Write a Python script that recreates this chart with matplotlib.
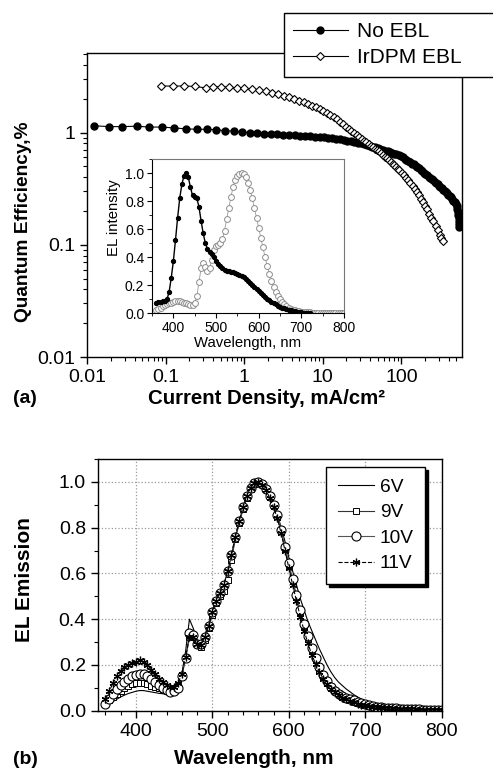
import numpy as np
import matplotlib
matplotlib.use('Agg')
import matplotlib.pyplot as plt
from matplotlib.ticker import (FixedLocator, FixedFormatter, LogLocator, NullFormatter,
                               MultipleLocator, FormatStrFormatter)

plt.rcParams['font.family'] = ['Liberation Sans', 'DejaVu Sans']

# ---- panel (a): quantum efficiency vs current density ----
j_no_ebl = [0.0122, 0.0191, 0.0279, 0.0426, 0.0617, 0.0887, 0.128, 0.181, 0.247, 0.332,
            0.436, 0.573, 0.739, 0.934, 1.17, 1.45, 1.78, 2.17, 2.62, 3.14,
            3.73, 4.40, 5.15, 5.99, 6.92, 7.95, 9.08, 10.3, 11.7, 13.2,
            14.8, 16.6, 18.5, 20.6, 22.8, 25.2, 27.7, 30.4, 33.3, 36.3,
            39.5, 42.9, 46.5, 50.2, 54.1, 58.2, 62.5, 67.0, 71.7, 76.5,
            81.6, 86.8, 92.3, 98.0, 104, 110, 116, 123, 130, 137,
            144, 152, 160, 168, 176, 185, 194, 203, 213, 223,
            233, 244, 255, 266, 278, 290, 302, 315, 328, 341,
            355, 369, 383, 398, 413, 428, 444, 460, 476, 493,
            505, 515, 524, 531, 536, 540, 543, 545]
qe_no_ebl = [1.15, 1.13, 1.13, 1.14, 1.12, 1.12, 1.10, 1.08, 1.07, 1.07,
             1.06, 1.04, 1.03, 1.01, 1.00, 0.99, 0.98, 0.97, 0.965, 0.96,
             0.955, 0.95, 0.94, 0.935, 0.93, 0.92, 0.915, 0.91, 0.90, 0.89,
             0.88, 0.87, 0.86, 0.85, 0.84, 0.83, 0.815, 0.80, 0.79, 0.775,
             0.765, 0.75, 0.74, 0.725, 0.715, 0.70, 0.69, 0.68, 0.67, 0.66,
             0.65, 0.64, 0.625, 0.615, 0.60, 0.585, 0.575, 0.56, 0.545, 0.53,
             0.52, 0.505, 0.49, 0.48, 0.465, 0.45, 0.44, 0.43, 0.415, 0.405,
             0.395, 0.385, 0.375, 0.365, 0.355, 0.345, 0.335, 0.325, 0.318, 0.31,
             0.303, 0.295, 0.288, 0.28, 0.272, 0.264, 0.256, 0.248, 0.24, 0.23,
             0.22, 0.21, 0.198, 0.186, 0.175, 0.163, 0.152, 0.143]

j_irdpm = [0.086, 0.122, 0.172, 0.236, 0.322, 0.403, 0.505, 0.632, 0.80, 1.0,
           1.25, 1.54, 1.88, 2.27, 2.71, 3.20, 3.74, 4.33, 4.98, 5.69,
           6.46, 7.30, 8.20, 9.17, 10.2, 11.3, 12.5, 13.8, 15.1, 16.5,
           18.0, 19.6, 21.3, 23.1, 25.0, 27.0, 29.1, 31.3, 33.6, 36.0,
           38.5, 41.1, 43.8, 46.6, 49.5, 52.5, 55.6, 58.9, 62.3, 65.8,
           69.5, 73.3, 77.3, 81.4, 85.7, 90.1, 94.7, 101, 108, 115,
           122, 130, 139, 148, 157, 167, 178, 189, 201, 214,
           228, 242, 257, 273, 290, 308, 325, 343]
qe_irdpm = [2.6, 2.6, 2.6, 2.58, 2.5, 2.56, 2.56, 2.55, 2.5, 2.48,
            2.45, 2.4, 2.33, 2.27, 2.2, 2.13, 2.07, 2.0, 1.93, 1.87,
            1.8, 1.74, 1.68, 1.62, 1.56, 1.5, 1.44, 1.37, 1.31, 1.25,
            1.19, 1.13, 1.08, 1.03, 0.99, 0.95, 0.91, 0.88, 0.85, 0.82,
            0.79, 0.76, 0.74, 0.72, 0.70, 0.68, 0.66, 0.63, 0.61, 0.59,
            0.57, 0.55, 0.53, 0.51, 0.49, 0.475, 0.46, 0.44, 0.415, 0.395,
            0.375, 0.355, 0.335, 0.315, 0.295, 0.275, 0.257, 0.24, 0.223, 0.207,
            0.19, 0.175, 0.162, 0.148, 0.135, 0.123, 0.114, 0.107]

# wavelength grid shared by the spectra
wl = [360, 365, 370, 375, 380, 385, 390, 395, 400, 405,
      410, 415, 420, 425, 430, 435, 440, 445, 450, 455,
      460, 465, 470, 475, 480, 485, 490, 495, 500, 505,
      510, 515, 520, 525, 530, 535, 540, 545, 550, 555,
      560, 565, 570, 575, 580, 585, 590, 595, 600, 605,
      610, 615, 620, 625, 630, 635, 640, 645, 650, 655,
      660, 665, 670, 675, 680, 685, 690, 695, 700, 705,
      710, 715, 720, 725, 730, 735, 740, 745, 750, 755,
      760, 765, 770, 775, 780, 785, 790, 795, 800]

# inset spectra
el_no_ebl = [0.075, 0.078, 0.08, 0.085, 0.09, 0.10, 0.15, 0.25, 0.37, 0.52,
             0.68, 0.82, 0.92, 0.98, 1.0, 0.97, 0.90, 0.84, 0.83, 0.82,
             0.76, 0.66, 0.57, 0.50, 0.46, 0.44, 0.42, 0.40, 0.37, 0.35,
             0.335, 0.32, 0.31, 0.305, 0.30, 0.297, 0.293, 0.288, 0.283, 0.275,
             0.268, 0.258, 0.246, 0.232, 0.218, 0.203, 0.188, 0.173, 0.158, 0.143,
             0.128, 0.114, 0.105, 0.094, 0.083, 0.073, 0.063, 0.054, 0.046, 0.039,
             0.035, 0.03, 0.025, 0.021, 0.017, 0.013, 0.01, 0.008, 0.006, 0.004,
             0.003, 0.002, 0.001]
el_irdpm = [0.02, 0.03, 0.04, 0.05, 0.06, 0.065, 0.07, 0.075, 0.08, 0.085,
            0.09, 0.085, 0.08, 0.075, 0.07, 0.065, 0.06, 0.06, 0.07, 0.12,
            0.22, 0.32, 0.36, 0.33, 0.30, 0.32, 0.38, 0.45, 0.48, 0.49,
            0.50, 0.53, 0.59, 0.67, 0.75, 0.83, 0.90, 0.95, 0.98, 0.995,
            1.0, 0.995, 0.97, 0.93, 0.88, 0.82, 0.75, 0.68, 0.61, 0.54,
            0.47, 0.40, 0.34, 0.28, 0.23, 0.19, 0.155, 0.125, 0.10, 0.08,
            0.064, 0.051, 0.041, 0.033, 0.026, 0.021, 0.017, 0.014, 0.011, 0.009,
            0.008, 0.007, 0.006, 0.005, 0.004, 0.004, 0.003, 0.003, 0.003, 0.002,
            0.002, 0.002, 0.002, 0.002, 0.001, 0.001, 0.001, 0.001, 0.001]

# ---- panel (b): EL emission at different voltages ----
el_6v = [0.02, 0.03, 0.04, 0.05, 0.06, 0.068, 0.075, 0.08, 0.085, 0.088,
         0.088, 0.085, 0.082, 0.079, 0.076, 0.074, 0.073, 0.074, 0.08, 0.10,
         0.16, 0.26, 0.40, 0.36, 0.31, 0.29, 0.33, 0.38, 0.44, 0.48,
         0.52, 0.555, 0.60, 0.68, 0.76, 0.82, 0.88, 0.93, 0.97, 0.99,
         1.0, 0.99, 0.975, 0.95, 0.91, 0.86, 0.80, 0.74, 0.67, 0.61,
         0.55, 0.49, 0.44, 0.39, 0.35, 0.31, 0.27, 0.235, 0.20, 0.17,
         0.145, 0.125, 0.11, 0.095, 0.083, 0.07, 0.06, 0.05, 0.042, 0.035,
         0.03, 0.025, 0.021, 0.017, 0.014, 0.012, 0.01, 0.009, 0.008, 0.007,
         0.007, 0.006, 0.006, 0.005, 0.005, 0.005, 0.004, 0.004, 0.004]
el_9v = [0.03, 0.045, 0.06, 0.075, 0.088, 0.10, 0.108, 0.115, 0.12, 0.122,
         0.12, 0.115, 0.11, 0.104, 0.098, 0.092, 0.088, 0.086, 0.09, 0.11,
         0.15, 0.23, 0.32, 0.32, 0.29, 0.28, 0.31, 0.36, 0.42, 0.47,
         0.50, 0.525, 0.57, 0.66, 0.75, 0.82, 0.88, 0.93, 0.97, 0.99,
         1.0, 0.99, 0.97, 0.94, 0.90, 0.85, 0.785, 0.71, 0.635, 0.565,
         0.495, 0.43, 0.37, 0.315, 0.265, 0.22, 0.18, 0.148, 0.122, 0.10,
         0.085, 0.072, 0.061, 0.052, 0.045, 0.039, 0.034, 0.029, 0.025, 0.022,
         0.019, 0.017, 0.015, 0.013, 0.012, 0.011, 0.01, 0.009, 0.008, 0.007,
         0.007, 0.006, 0.006, 0.005, 0.005, 0.005, 0.004, 0.004, 0.004]
el_10v = [0.03, 0.05, 0.075, 0.095, 0.112, 0.127, 0.14, 0.15, 0.158, 0.162,
          0.16, 0.15, 0.138, 0.125, 0.112, 0.10, 0.09, 0.083, 0.085, 0.10,
          0.15, 0.23, 0.34, 0.33, 0.29, 0.29, 0.32, 0.37, 0.43, 0.48,
          0.515, 0.55, 0.61, 0.68, 0.76, 0.83, 0.89, 0.94, 0.975, 0.995,
          1.0, 0.99, 0.97, 0.94, 0.90, 0.855, 0.79, 0.715, 0.645, 0.575,
          0.505, 0.44, 0.38, 0.325, 0.275, 0.23, 0.19, 0.155, 0.128, 0.105,
          0.088, 0.075, 0.064, 0.055, 0.05, 0.045, 0.038, 0.032, 0.028, 0.024,
          0.02, 0.018, 0.015, 0.013, 0.012, 0.011, 0.01, 0.009, 0.008, 0.007,
          0.007, 0.006, 0.006, 0.005, 0.005, 0.005, 0.004, 0.004, 0.004]
el_11v = [0.05, 0.085, 0.12, 0.15, 0.175, 0.19, 0.20, 0.207, 0.215, 0.222,
          0.215, 0.20, 0.18, 0.16, 0.14, 0.125, 0.112, 0.105, 0.105, 0.12,
          0.16, 0.235, 0.32, 0.32, 0.29, 0.285, 0.32, 0.37, 0.43, 0.48,
          0.515, 0.55, 0.61, 0.68, 0.76, 0.83, 0.89, 0.94, 0.975, 0.995,
          1.0, 0.985, 0.965, 0.93, 0.89, 0.84, 0.775, 0.70, 0.625, 0.55,
          0.48, 0.41, 0.35, 0.295, 0.245, 0.205, 0.17, 0.14, 0.115, 0.095,
          0.08, 0.067, 0.057, 0.049, 0.042, 0.036, 0.031, 0.027, 0.023, 0.02,
          0.018, 0.016, 0.014, 0.012, 0.011, 0.01, 0.009, 0.008, 0.007, 0.007,
          0.006, 0.006, 0.005, 0.005, 0.005, 0.004, 0.004, 0.004, 0.004]

W, H = 493, 769
fig = plt.figure(figsize=(W / 100, H / 100), dpi=100)

# ---------- panel (a) ----------
ax1 = fig.add_axes([87.3 / W, 1 - 357 / H, (462 - 87.3) / W, (357 - 53) / H])
ax1.plot(j_no_ebl, qe_no_ebl, color='k', lw=0.8, marker='o', ms=5, mfc='k', mec='k',
         label='No EBL')
ax1.plot(j_irdpm, qe_irdpm, color='k', lw=0.8, marker='D', ms=4.5, mfc='white', mec='k',
         mew=0.8, label='IrDPM EBL')
ax1.set_xscale('log')
ax1.set_yscale('log')
ax1.set_xlim(0.01, 593)
ax1.set_ylim(0.01, 5.12)
ax1.xaxis.set_major_locator(FixedLocator([0.01, 0.1, 1, 10, 100]))
ax1.xaxis.set_major_formatter(FixedFormatter(['0.01', '0.1', '1', '10', '100']))
ax1.xaxis.set_minor_locator(LogLocator(base=10, subs=np.arange(2, 10)))
ax1.xaxis.set_minor_formatter(NullFormatter())
ax1.yaxis.set_major_locator(FixedLocator([0.01, 0.1, 1]))
ax1.yaxis.set_major_formatter(FixedFormatter(['0.01', '0.1', '1']))
ax1.yaxis.set_minor_locator(LogLocator(base=10, subs=np.arange(2, 10)))
ax1.yaxis.set_minor_formatter(NullFormatter())
ax1.tick_params(which='major', direction='out', length=5, width=1, labelsize=14)
ax1.tick_params(which='minor', direction='out', length=3, width=0.8)
for s in ax1.spines.values():
    s.set_linewidth(1)

# legend box runs past the right edge of the figure, as in the original
leg1 = ax1.legend(loc='upper left', bbox_to_anchor=(284 / W, 1 - 76 / H, 270 / W, 63 / H),
                  bbox_transform=fig.transFigure, mode='expand', borderaxespad=0,
                  fontsize=15, numpoints=1, handlelength=2.6, handletextpad=0.45,
                  labelspacing=0.33, borderpad=0.45, fancybox=False, framealpha=1,
                  edgecolor='k')
leg1.get_frame().set_linewidth(1)

# inset
axi = fig.add_axes([152 / W, 1 - 313.3 / H, (344 - 152) / W, (313.3 - 159) / H])
axi.plot(wl, el_irdpm, color='#999999', lw=0.6, marker='o', ms=4.2, mfc='white',
         mec='#8c8c8c', mew=0.7)
axi.plot(wl[:len(el_no_ebl)], el_no_ebl, color='k', lw=1.0, marker='o', ms=2.8, mfc='k',
         mec='k')
axi.set_xlim(350, 800)
axi.set_ylim(0, 1.1)
axi.set_xticks([400, 500, 600, 700, 800])
axi.xaxis.set_minor_locator(MultipleLocator(50))
axi.set_yticks([0.0, 0.2, 0.4, 0.6, 0.8, 1.0])
axi.yaxis.set_major_formatter(FormatStrFormatter('%.1f'))
axi.yaxis.set_minor_locator(MultipleLocator(0.1))
axi.tick_params(which='major', direction='out', length=3.5, width=0.8, labelsize=10, pad=2)
axi.tick_params(which='minor', direction='out', length=2, width=0.6)
axi.spines['top'].set_color('#777777')
axi.spines['right'].set_color('#777777')
fig.text(114 / W, 1 - 218 / H, 'EL intensity', rotation=90, fontsize=10.7,
         ha='center', va='center')
fig.text(248 / W, 1 - 343 / H, 'Wavelength, nm', fontsize=10.7, ha='center', va='center')

fig.text(13 / W, 1 - 399 / H, '(a)', fontsize=14, fontweight='bold', ha='left', va='center')
fig.text(266 / W, 1 - 399 / H, 'Current Density, mA/cm²', fontsize=14.7,
         fontweight='bold', ha='center', va='center')
fig.text(24 / W, 1 - 222 / H, 'Quantum Efficiency,%', rotation=90, fontsize=13.8,
         fontweight='bold', ha='center', va='center')

# ---------- panel (b) ----------
ax2 = fig.add_axes([97.7 / W, 1 - 710.7 / H, (441.7 - 97.7) / W, (710.7 - 459) / H])
ax2.set_axisbelow(True)
ax2.grid(True, which='major', ls=':', color='#9a9a9a', lw=0.9)
ax2.plot(wl, el_6v, color='k', lw=0.8, label='6V')
ax2.plot(wl, el_9v, color='#333333', lw=0.8, marker='s', ms=4, mfc='white', mec='k',
         mew=0.7, label='9V')
ax2.plot(wl, el_10v, color='#555555', lw=0.8, marker='o', ms=6.5, mfc='white', mec='k',
         mew=0.8, label='10V')
ax2.plot(wl, el_11v, color='k', lw=0.8, ls='--', marker=(6, 2, 0), ms=5.5, mfc='k',
         mec='k', mew=0.9, label='11V')
ax2.set_xlim(350, 800)
ax2.set_ylim(0, 1.1)
ax2.set_xticks([400, 500, 600, 700, 800])
ax2.xaxis.set_minor_locator(MultipleLocator(20))
ax2.set_yticks([0.0, 0.2, 0.4, 0.6, 0.8, 1.0])
ax2.yaxis.set_major_formatter(FormatStrFormatter('%.1f'))
ax2.yaxis.set_minor_locator(MultipleLocator(0.1))
ax2.tick_params(which='major', direction='out', length=5, width=1, labelsize=14)
ax2.tick_params(which='minor', direction='out', length=3, width=0.8)
for s in ax2.spines.values():
    s.set_linewidth(1)

leg2 = ax2.legend(loc='upper left', bbox_to_anchor=(326 / W, 1 - 467 / H),
                  bbox_transform=fig.transFigure, borderaxespad=0, fontsize=13.8,
                  numpoints=1, handlelength=1.9, handletextpad=0.3, labelspacing=0.42,
                  borderpad=0.6, fancybox=False, framealpha=1, edgecolor='k',
                  shadow={'color': 'k', 'alpha': 1})
leg2.get_frame().set_linewidth(1)

fig.text(13 / W, 1 - 759 / H, '(b)', fontsize=14, fontweight='bold', ha='left', va='center')
fig.text(254 / W, 1 - 758 / H, 'Wavelength, nm', fontsize=15, fontweight='bold',
         ha='center', va='center')
fig.text(25 / W, 1 - 580 / H, 'EL Emission', rotation=90, fontsize=15,
         fontweight='bold', ha='center', va='center')

fig.savefig('out.png', dpi=100)
